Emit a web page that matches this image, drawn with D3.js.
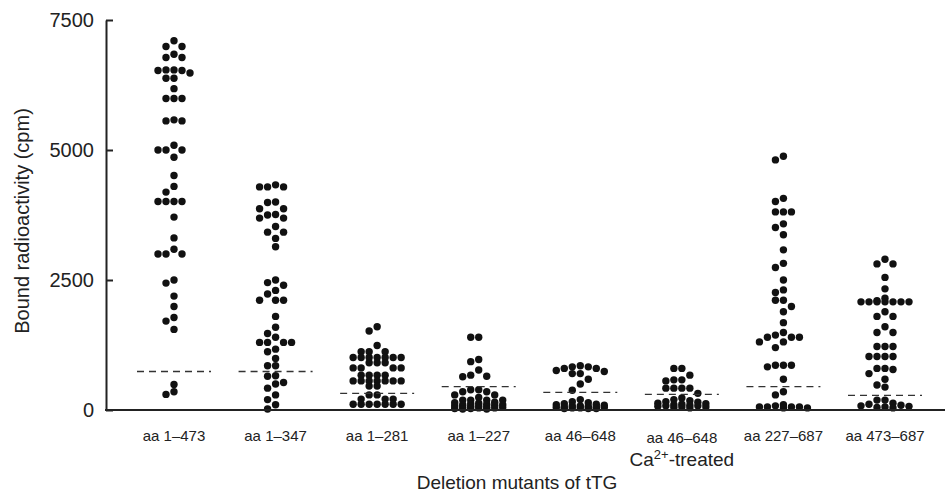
<!DOCTYPE html>
<html>
<head>
<meta charset="utf-8">
<script src="https://cdn.jsdelivr.net/npm/d3@7"></script>
<style>
  body { margin: 0; background: #fff; }
  svg { display: block; font-family: "Liberation Sans", Arial, sans-serif; }
</style>
</head>
<body>
<script>
const width = 945
const height = 492

// groups on the x axis
const categories = ["aa 1–473", "aa 1–347", "aa 1–281", "aa 1–227", "aa 46–648", "aa 46–648 Ca", "aa 227–687", "aa 473–687"]
const catLabels = ["aa 1–473", "aa 1–347", "aa 1–281", "aa 1–227", "aa 46–648", "aa 46–648", "aa 227–687", "aa 473–687"]

// bound radioactivity (cpm)
const aa1_473 = [7100, 6990, 6990, 6840, 6780, 6780, 6530, 6530, 6540, 6480, 6540, 6380, 6380, 6180, 5990, 5990, 5990, 5560, 5560, 5580, 5000, 5000, 5000, 5090, 4860, 4510, 4300, 4190, 4010, 4010, 4010, 4010, 3710, 3310, 3090, 3000, 3000, 3000, 2440, 2500, 2190, 1990, 1780, 1710, 1550, 490, 300, 350]
const aa1_347 = [4290, 4290, 4290, 4330, 4000, 3990, 3870, 3870, 3750, 3690, 3690, 3760, 3530, 3420, 3420, 3300, 3140, 2450, 2500, 2400, 2230, 2300, 2110, 2110, 2110, 1800, 1590, 1470, 1400, 1300, 1300, 1300, 1300, 1170, 1120, 990, 850, 850, 660, 650, 530, 500, 420, 290, 200, 100, 20]
const aa1_281 = [1600, 1520, 1240, 1120, 1120, 1120, 1010, 1010, 1010, 1010, 1010, 1010, 1010, 910, 910, 910, 810, 810, 810, 810, 670, 670, 670, 670, 560, 560, 560, 560, 560, 560, 560, 460, 460, 290, 290, 210, 210, 210, 110, 110, 110, 110, 110, 110, 110]
const aa1_227 = [1400, 1400, 970, 930, 770, 650, 640, 670, 390, 390, 350, 350, 290, 290, 240, 190, 190, 190, 190, 150, 140, 130, 120, 110, 100, 100, 90, 80, 80, 70, 60, 60, 50, 40, 40, 30, 30, 20, 20]
const aa46_648 = [800, 800, 850, 830, 830, 760, 740, 700, 700, 590, 500, 380, 200, 160, 140, 120, 110, 100, 90, 80, 80, 70, 60, 60, 50, 50, 40, 40, 30, 30, 30]
const aa46_648Ca = [800, 800, 670, 580, 580, 560, 420, 420, 420, 420, 320, 230, 200, 180, 160, 150, 130, 120, 110, 100, 90, 80, 80, 70, 60, 60, 50, 40]
const aa227_687 = [4880, 4810, 4070, 4010, 3810, 3810, 3810, 3580, 3510, 3370, 3080, 2820, 2740, 2500, 2310, 2260, 2110, 2110, 1990, 1890, 1680, 1440, 1400, 1400, 1400, 1490, 1310, 1310, 1200, 860, 860, 830, 860, 590, 350, 290, 100, 80, 60, 60, 60, 60, 40, 40]
const aa473_687 = [2810, 2810, 2900, 2550, 2330, 2150, 2100, 2080, 2080, 2080, 2080, 2080, 2080, 2080, 1890, 1800, 1800, 1600, 1490, 1490, 1220, 1220, 1220, 1030, 1030, 1030, 1030, 800, 780, 800, 700, 590, 480, 440, 190, 190, 130, 110, 90, 80, 70, 60, 50, 40]
const series = [aa1_473, aa1_347, aa1_281, aa1_227, aa46_648, aa46_648Ca, aa227_687, aa473_687]

// dashed cut-off level of each group
const cutoff = [740, 740, 320, 450, 340, 300, 450, 280]

const yTicks = [0, 2500, 5000, 7500]

const x = d3.scalePoint().domain(categories).range([174, 885])
const y = d3.scaleLinear().domain([0, 7500]).range([410, 20])

const svg = d3.select("body").append("svg").attr("width", width).attr("height", height)

// simple slot beeswarm: dots sit in columns 8px apart
const step = 8
const slotOrder = [0, -1, 1, -2, 2, -3, 3]
function swarm(values) {
  const placed = []
  return values.slice().sort((a, b) => b - a).map((v) => {
    const py = y(v)
    let best = 0
    let bestGap = -1
    for (const s of slotOrder) {
      const near = placed.filter((p) => p.slot === s).map((p) => Math.abs(p.py - py))
      const gap = near.length ? d3.min(near) : Infinity
      if (gap >= 7) { best = s; break }
      if (gap > bestGap) { bestGap = gap; best = s }
    }
    placed.push({slot: best, py})
    return {v, slot: best}
  })
}

const dots = []
series.forEach((vals, i) => {
  swarm(vals).forEach((d) => dots.push({cat: categories[i], v: d.v, slot: d.slot}))
})

svg.append("g")
  .selectAll("circle")
  .data(dots)
  .join("circle")
  .attr("cx", (d) => x(d.cat) + d.slot * step)
  .attr("cy", (d) => y(d.v))
  .attr("r", 3.7)
  .attr("fill", "#111")

// cut-off lines
svg.append("g")
  .selectAll("line")
  .data(cutoff)
  .join("line")
  .attr("x1", (d, i) => x(categories[i]) - 37)
  .attr("x2", (d, i) => x(categories[i]) + 37)
  .attr("y1", (d) => y(d))
  .attr("y2", (d) => y(d))
  .attr("stroke", "#333")
  .attr("stroke-width", 1.3)
  .attr("stroke-dasharray", "7,5")

// y axis, ticks pointing inward
const yAxis = svg.append("g")
  .attr("transform", "translate(106,0)")
  .call(d3.axisLeft(y).tickValues(yTicks).tickFormat(d3.format("d")).tickSizeInner(-7).tickSizeOuter(0).tickPadding(12))
yAxis.select(".domain").attr("stroke", "#222").attr("stroke-width", 2)
yAxis.selectAll(".tick line").attr("stroke", "#222").attr("stroke-width", 2)
yAxis.selectAll(".tick text").attr("font-size", 20).attr("fill", "#222").attr("font-family", "Liberation Sans, Arial, sans-serif")

// x axis baseline
svg.append("line")
  .attr("x1", 105).attr("x2", 945)
  .attr("y1", y(0)).attr("y2", y(0))
  .attr("stroke", "#222").attr("stroke-width", 2)

svg.append("g")
  .selectAll("text")
  .data(categories)
  .join("text")
  .attr("x", (d) => x(d))
  .attr("y", (d, i) => (i === 5 ? 443 : 441))
  .attr("text-anchor", "middle")
  .attr("font-size", 15)
  .attr("fill", "#222")
  .text((d, i) => catLabels[i])

const ca = svg.append("text")
  .attr("x", x(categories[5]))
  .attr("y", 466)
  .attr("text-anchor", "middle")
  .attr("font-size", 19)
  .attr("fill", "#222")
ca.append("tspan").text("Ca")
ca.append("tspan").attr("font-size", 13).attr("dy", -7).text("2+")
ca.append("tspan").attr("dy", 7).text("-treated")

svg.append("text")
  .attr("x", 517)
  .attr("y", 489)
  .attr("text-anchor", "middle")
  .attr("font-size", 19)
  .attr("fill", "#222")
  .text("Deletion mutants of tTG")

svg.append("text")
  .attr("transform", "translate(29,221) rotate(-90)")
  .attr("text-anchor", "middle")
  .attr("font-size", 20)
  .attr("fill", "#222")
  .text("Bound radioactivity (cpm)")
</script>
</body>
</html>
